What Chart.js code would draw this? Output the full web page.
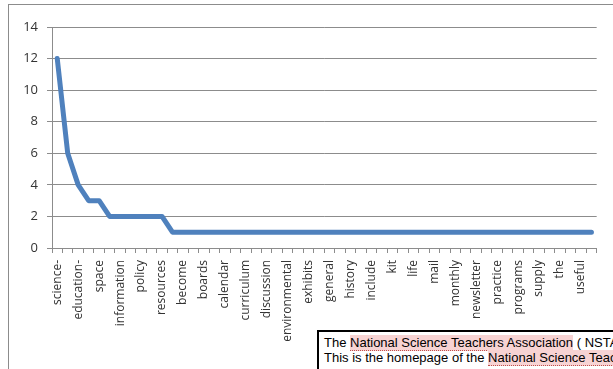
<!DOCTYPE html>
<html>
<head>
<meta charset="utf-8">
<script src="https://cdn.jsdelivr.net/npm/chart.js@4"></script>
<style>
  html, body { margin: 0; padding: 0; background: #fff; overflow: hidden; width: 613px; height: 369px; }
  #frame { position: absolute; left: 8px; top: 4px; width: 700px; height: 400px; border-top: 1px solid #8c8c8c; border-left: 1px solid #8c8c8c; }
  #chart { position: absolute; left: 0; top: 0; }
  #note {
    position: absolute; left: 317px; top: 330px; width: 400px; height: 60px;
    border: 2px solid #000; background: #fff;
    font-family: "Liberation Sans", Arial, sans-serif; font-size: 13px; line-height: 15px;
    padding: 3px 0 0 5px; color: #000; white-space: nowrap;
  }
  #note .hl { background: #f7d3d3; border-bottom: 1px dotted #c0504d; }
</style>
</head>
<body>
<div id="frame"></div>
<canvas id="chart" width="613" height="369"></canvas>
<div id="note">
  The <span class="hl">National Science Teachers Association</span> ( NSTA )<br>
  This is the homepage of the <span class="hl">National Science Teachers</span>
</div>
<script>
// word frequency (only every second category name is visible on the axis)
const categories = [
    'science-', '', 'education-', '', 'space', '', 'information', '', 'policy', '',
    'resources', '', 'become', '', 'boards', '', 'calendar', '', 'curriculum', '',
    'discussion', '', 'environmental', '', 'exhibits', '', 'general', '', 'history', '',
    'include', '', 'kit', '', 'life', '', 'mail', '', 'monthly', '',
    'newsletter', '', 'practice', '', 'programs', '', 'supply', '', 'the', '',
    'useful', ''
]
const counts = [
    12, 6, 4, 3, 3, 2, 2, 2, 2, 2,
    2, 1, 1, 1, 1, 1, 1, 1, 1, 1,
    1, 1, 1, 1, 1, 1, 1, 1, 1, 1,
    1, 1, 1, 1, 1, 1, 1, 1, 1, 1,
    1, 1, 1, 1, 1, 1, 1, 1, 1, 1,
    1, 1
]
const yMax = 14, yStep = 2

const ctx = document.getElementById('chart').getContext('2d');
const gridColor = '#8c8c8c'

const chart = new Chart(ctx, {
    type: 'line',
    data: {
        labels: categories,
        datasets: [{
            data: counts,
            borderColor: '#4f81bd',
            borderWidth: 5,
            borderCapStyle: 'round',
            borderJoinStyle: 'round',
            pointRadius: 0,
            tension: 0
        }]
    },
    options: {
        responsive: false,
        animation: false,
        layout: { padding: { top: 27, right: 16, left: 0, bottom: 0 } },
        plugins: { legend: { display: false }, tooltip: { enabled: false } },
        scales: {
            x: {
                type: 'category',
                offset: true,
                afterFit: (scale) => { scale.height = 121 },
                grid: { offset: true, drawOnChartArea: false, color: gridColor, tickLength: 5 },
                border: { color: gridColor },
                ticks: {
                    autoSkip: false, minRotation: 90, maxRotation: 90, padding: 7,
                    color: '#333', font: { family: 'Open Sans', size: 12 }
                }
            },
            y: {
                min: 0, max: yMax,
                afterFit: (scale) => { scale.width = 52 },
                grid: { color: gridColor, tickLength: 5 },
                border: { color: gridColor },
                ticks: {
                    stepSize: yStep, padding: 9,
                    color: '#333', font: { family: 'Open Sans', size: 13 }
                }
            }
        }
    }
});
</script>
</body>
</html>
